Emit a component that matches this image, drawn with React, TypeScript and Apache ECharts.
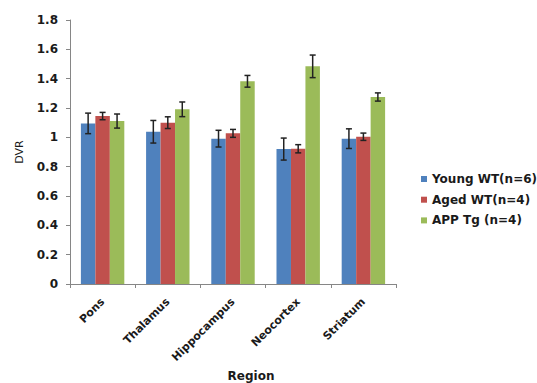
import React, { useEffect, useRef } from "react";
import * as echarts from "echarts";

// Brain regions along the x axis
const regions = ["Pons", "Thalamus", "Hippocampus", "Neocortex", "Striatum"];

// Group names for the legend
const groupNames = ["Young WT(n=6)", "Aged WT(n=4)", "APP Tg (n=4)"];

// Mean DVR per region for each group
const youngWT = [1.095, 1.038, 0.991, 0.92, 0.991];
const agedWT = [1.145, 1.1, 1.027, 0.922, 1.004];
const appTg = [1.111, 1.191, 1.382, 1.484, 1.275];

// Error (± SEM) per region for each group
const youngErr = [0.07, 0.077, 0.057, 0.075, 0.067];
const agedErr = [0.025, 0.04, 0.027, 0.028, 0.025];
const appErr = [0.048, 0.05, 0.04, 0.077, 0.028];

const yTicks = [0, 0.2, 0.4, 0.6, 0.8, 1, 1.2, 1.4, 1.6, 1.8];

const colors = ["#4F81BD", "#C0504D", "#9BBB59"];
const BAR_FRACTION = 0.222;
const FONT = "'DejaVu Sans', sans-serif";
const TEXT = "#1a1a1a";

export default function App() {
  const ref = useRef<HTMLDivElement>(null);

  useEffect(() => {
    if (!ref.current) return;
    const chart = echarts.init(ref.current, undefined, { renderer: "svg" });

    const means = [youngWT, agedWT, appTg];
    const errs = [youngErr, agedErr, appErr];

    const errorData: number[][] = [];
    means.forEach((m, s) => {
      m.forEach((v, i) => {
        errorData.push([i, v - errs[s][i], v + errs[s][i], s]);
      });
    });

    const barSeries = means.map((m, s) => ({
      name: groupNames[s],
      type: "bar",
      data: m,
      barWidth: BAR_FRACTION * 100 + "%",
      barGap: "0%",
      itemStyle: { color: colors[s] },
    }));

    chart.setOption({
      animation: false,
      grid: { left: 70, right: 141, top: 20, bottom: 99, outerBoundsMode: "none", containLabel: false },
      legend: {
        orient: "vertical",
        left: 416,
        top: 167,
        itemWidth: 6,
        itemHeight: 6,
        itemGap: 6.7,
        icon: "rect",
        data: groupNames,
        textStyle: {
          fontFamily: FONT,
          fontSize: 12,
          fontWeight: "bold",
          color: TEXT,
          lineHeight: 14,
        },
      },
      xAxis: {
        type: "category",
        data: regions,
        name: "Region",
        nameLocation: "middle",
        nameGap: 86,
        nameMoveOverlap: false,
        nameTextStyle: {
          fontFamily: FONT,
          fontSize: 12,
          fontWeight: "bold",
          color: TEXT,
          padding: [0, 0, 0, 36],
        },
        axisLine: { lineStyle: { color: "#868686", width: 1 } },
        axisTick: { show: true, length: 4, lineStyle: { color: "#868686" } },
        axisLabel: {
          rotate: 45,
          interval: 0,
          hideOverlap: false,
          margin: 16,
          fontFamily: FONT,
          fontSize: 11,
          fontWeight: "bold",
          color: TEXT,
        },
      },
      yAxis: {
        type: "value",
        min: 0,
        max: 1.8,
        interval: 0.2,
        name: "DVR",
        nameLocation: "middle",
        nameGap: 45,
        nameRotate: 90,
        nameMoveOverlap: false,
        nameTextStyle: {
          fontFamily: FONT,
          fontSize: 11,
          color: TEXT,
        },
        axisLine: { show: true, lineStyle: { color: "#868686", width: 1 } },
        axisTick: { show: true, length: 4, lineStyle: { color: "#868686" } },
        splitLine: { show: false },
        axisLabel: {
          margin: 12,
          fontFamily: FONT,
          fontSize: 12,
          fontWeight: "bold",
          color: TEXT,
          formatter: (v: number) => {
            const t = yTicks.find((x) => Math.abs(x - v) < 1e-6);
            return String(t !== undefined ? Number(t.toFixed(1)) : v);
          },
        },
      },
      series: [
        ...barSeries,
        {
          type: "custom",
          name: "error",
          data: errorData,
          encode: { x: 0, y: [1, 2] },
          z: 10,
          silent: true,
          renderItem: (params: any, api: any) => {
            const cat = api.value(0);
            const lo = api.value(1);
            const hi = api.value(2);
            const s = api.value(3);
            const band = api.size([1, 0])[0];
            const bw = band * BAR_FRACTION;
            const offset = (s - 1) * bw;
            const pLo = api.coord([cat, lo]);
            const pHi = api.coord([cat, hi]);
            const x = pLo[0] + offset;
            const cap = 3;
            const style = { stroke: "#222222", lineWidth: 1.5 };
            return {
              type: "group",
              children: [
                { type: "line", shape: { x1: x, y1: pLo[1], x2: x, y2: pHi[1] }, style },
                { type: "line", shape: { x1: x - cap, y1: pLo[1], x2: x + cap, y2: pLo[1] }, style },
                { type: "line", shape: { x1: x - cap, y1: pHi[1], x2: x + cap, y2: pHi[1] }, style },
              ],
            };
          },
        },
      ],
    });

    return () => chart.dispose();
  }, []);

  return <div ref={ref} style={{ width: 537, height: 383, position: "absolute", left: 0, top: 0, background: "#fff" }} />;
}
